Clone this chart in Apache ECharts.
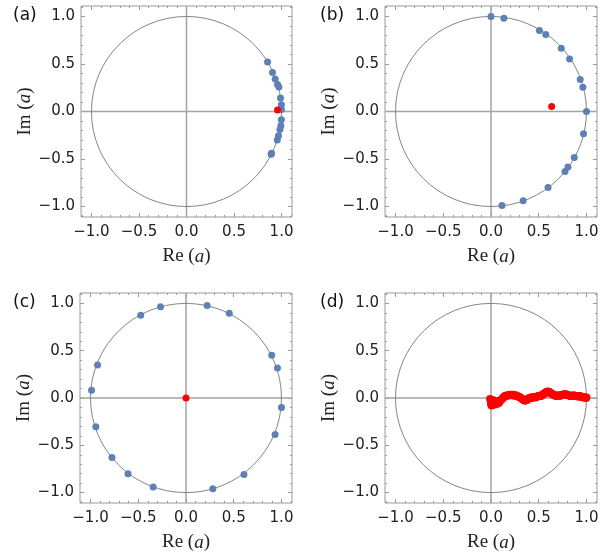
<!DOCTYPE html>
<html><head><meta charset="utf-8">
<script src="https://cdn.jsdelivr.net/npm/echarts@6/dist/echarts.min.js"></script>
<style>html,body{margin:0;padding:0;background:#fff}#c{width:614px;height:553px}</style>
</head><body><div id="c"></div>
<script>
const panelLabels = ['(a)', '(b)', '(c)', '(d)'];
const majorTicks = [-1, -0.5, 0, 0.5, 1];
const minorTicks = [-1.1, -0.9, -0.8, -0.7, -0.6, -0.4, -0.3, -0.2, -0.1, 0.1, 0.2, 0.3, 0.4, 0.6, 0.7, 0.8, 0.9, 1.1];
const unitCircle = [[0, 0, 1]];

const blueA = [[0.853,0.522],[0.905,0.410],[0.933,0.341],[0.958,0.285],[0.972,0.257],[0.989,0.141],[0.998,0.070],[0.999,0.020],
  [0.998,-0.087],[0.993,-0.150],[0.983,-0.190],[0.968,-0.255],[0.955,-0.300],[0.895,-0.440],[0.89,-0.45]];
const redA = [[0.958,0.015]];

const blueB = [[0.0,1.0],[0.135,0.98],[0.507,0.853],[0.573,0.81],[0.736,0.665],[0.823,0.553],[0.934,0.337],[0.962,0.254],
  [1.0,0.0],[0.969,-0.233],[0.872,-0.485],[0.806,-0.583],[0.775,-0.63],[0.597,-0.80],[0.337,-0.94],[0.115,-0.99]];
const redB = [[0.635,0.052]];

const blueC = [[-0.267,0.965],[-0.474,0.876],[0.221,0.979],[0.453,0.897],[0.898,0.452],[0.958,0.318],[1.0,-0.10],
  [0.933,-0.385],[0.607,-0.81],[0.281,-0.96],[-0.344,-0.94],[-0.607,-0.80],[-0.775,-0.63],[-0.944,-0.305],[-0.989,0.081],[-0.926,0.35]];
const redC = [[0.0,0.0]];

const blueD = [];
const redD = [[-0.01,-0.01],[0.0,-0.03],[0.0,-0.06],[0.005,-0.08],[0.01,-0.05],[0.015,-0.02],[0.02,-0.07],[0.025,-0.04],
  [0.03,-0.06],[0.04,-0.03],[0.045,-0.07],[0.055,-0.05],[0.065,-0.06],[0.075,-0.04],[0.085,-0.05],[0.095,-0.03],
  [0.105,-0.02],[0.115,-0.01],[0.125,0.0],[0.135,0.01],[0.145,0.02],[0.155,0.025],[0.165,0.02],[0.175,0.03],
  [0.185,0.03],[0.195,0.035],[0.205,0.03],[0.215,0.035],[0.225,0.03],[0.235,0.035],[0.245,0.025],[0.255,0.03],
  [0.265,0.025],[0.275,0.02],[0.285,0.015],[0.295,0.01],[0.305,0.005],[0.315,0.0],[0.325,-0.01],[0.335,-0.015],
  [0.345,-0.02],[0.355,-0.03],[0.365,-0.025],[0.375,-0.02],[0.385,-0.01],[0.395,-0.005],[0.405,0.0],[0.415,0.005],
  [0.425,0.0],[0.435,0.005],[0.445,0.01],[0.455,0.01],[0.465,0.005],[0.475,0.01],[0.485,0.015],[0.495,0.02],
  [0.505,0.025],[0.515,0.02],[0.525,0.02],[0.535,0.03],[0.545,0.04],[0.555,0.045],[0.565,0.05],[0.575,0.06],
  [0.585,0.065],[0.595,0.07],[0.605,0.065],[0.615,0.06],[0.625,0.05],[0.635,0.045],[0.645,0.04],[0.655,0.035],
  [0.665,0.03],[0.675,0.025],[0.685,0.02],[0.695,0.025],[0.705,0.03],[0.715,0.025],[0.725,0.025],[0.735,0.03],
  [0.745,0.035],[0.755,0.035],[0.765,0.04],[0.775,0.04],[0.785,0.04],[0.795,0.035],[0.805,0.03],[0.815,0.03],
  [0.825,0.025],[0.835,0.02],[0.845,0.02],[0.855,0.025],[0.865,0.03],[0.875,0.025],[0.885,0.02],[0.895,0.02],
  [0.905,0.015],[0.915,0.02],[0.925,0.015],[0.935,0.02],[0.945,0.01],[0.955,0.01],[0.965,0.005],[0.975,0.01],
  [0.985,0.005],[0.995,0.0],[1.0,0.005]];

const blueSets = [blueA, blueB, blueC, blueD];
const redSets = [redA, redB, redC, redD];

const grids = [
  {left: 81, top: 6, width: 211, height: 211},
  {left: 385, top: 6, width: 212, height: 211},
  {left: 80, top: 293, width: 212, height: 210},
  {left: 385, top: 293, width: 212, height: 210}
];
const labelPos = [[13, 7], [320, 7], [13, 294], [320, 294]];

const FRAME = '#9a9a9a';
const RANGE = 1.11;
const fmt = v => (v < 0 ? '\u2212' : '') + Math.abs(v).toFixed(1);

const xAxes = [], yAxes = [], series = [];
grids.forEach((g, i) => {
  const mk = (isX, pos, major, withLabel) => {
    const ax = {
      type: 'value', gridIndex: i, min: -RANGE, max: RANGE, position: pos,
      axisLine: {show: false, onZero: false}, splitLine: {show: false},
      axisTick: {show: true, inside: true, length: major ? 4 : 2, customValues: major ? majorTicks : minorTicks,
        lineStyle: {color: FRAME, width: 1}},
      axisLabel: {show: withLabel, customValues: majorTicks, formatter: fmt, margin: isX ? 8 : 6,
        fontFamily: 'DejaVu Sans', fontSize: 15, color: '#222'}
    };
    if (withLabel) {
      ax.name = isX ? 'Re ({i|a})' : 'Im ({i|a})';
      ax.nameLocation = 'middle';
      ax.nameGap = isX ? 30 : 44;
      ax.nameTextStyle = {fontFamily: 'Liberation Serif', fontSize: 19, color: '#222',
        rich: {i: {fontFamily: 'Liberation Serif', fontStyle: 'italic', fontSize: 19, color: '#222'}}};
    }
    return ax;
  };
  xAxes.push(mk(true, 'bottom', true, true), mk(true, 'bottom', false, false), mk(true, 'top', true, false), mk(true, 'top', false, false));
  yAxes.push(mk(false, 'left', true, true), mk(false, 'left', false, false), mk(false, 'right', true, false), mk(false, 'right', false, false));
  const xi = 4 * i, yi = 4 * i;
  series.push({
    type: 'custom', xAxisIndex: xi, yAxisIndex: yi, silent: true, z: 1,
    data: unitCircle,
    renderItem: (params, api) => {
      const cs = params.coordSys;
      const c = api.coord([api.value(0), api.value(1)]);
      const r = api.size([api.value(2), api.value(2)]);
      return {type: 'group', children: [
        {type: 'line', shape: {x1: cs.x, y1: c[1], x2: cs.x + cs.width, y2: c[1]}, style: {stroke: '#a3a3a3', lineWidth: 1.5}},
        {type: 'line', shape: {x1: c[0], y1: cs.y, x2: c[0], y2: cs.y + cs.height}, style: {stroke: '#a3a3a3', lineWidth: 1.5}},
        {type: 'ellipse', shape: {cx: c[0], cy: c[1], rx: r[0], ry: r[1]}, style: {fill: 'none', stroke: '#858585', lineWidth: 1}}
      ]};
    }
  });
  series.push({
    type: 'scatter', xAxisIndex: xi, yAxisIndex: yi, z: 3, silent: true,
    data: blueSets[i], symbolSize: 7, itemStyle: {color: '#5E81B5', opacity: 1}
  });
  series.push({
    type: 'scatter', xAxisIndex: xi, yAxisIndex: yi, z: 4, silent: true,
    data: redSets[i], symbolSize: i === 3 ? 8 : 7, itemStyle: {color: '#FF0000', opacity: 1}
  });
});

const chart = echarts.init(document.getElementById('c'), null, {renderer: 'canvas'});
chart.setOption({
  animation: false,
  backgroundColor: '#ffffff',
  grid: grids.map(g => Object.assign({show: true, borderColor: FRAME, borderWidth: 1, backgroundColor: 'transparent'}, g)),
  xAxis: xAxes,
  yAxis: yAxes,
  series: series,
  graphic: panelLabels.map((t, i) => ({
    type: 'text', left: labelPos[i][0], top: labelPos[i][1],
    style: {text: t, fontFamily: 'DejaVu Sans', fontSize: 17, fill: '#111'}
  }))
});
</script></body></html>
